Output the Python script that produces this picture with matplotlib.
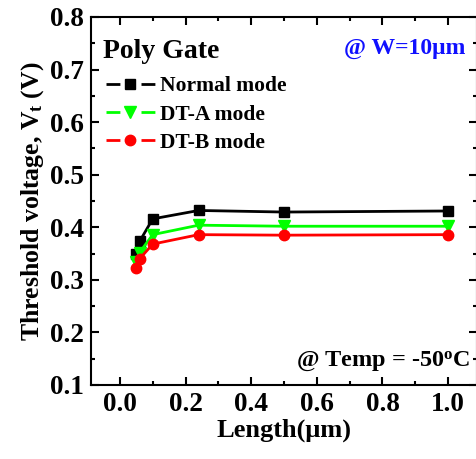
import matplotlib
matplotlib.use("Agg")
import matplotlib.pyplot as plt
from matplotlib.lines import Line2D
from matplotlib.ticker import MultipleLocator

plt.rcParams['font.family'] = ['Liberation Serif', 'DejaVu Serif']
plt.rcParams['font.weight'] = 'bold'
plt.rcParams['mathtext.fontset'] = 'custom'
plt.rcParams['mathtext.rm'] = 'Liberation Serif:bold'
plt.rcParams['mathtext.bf'] = 'Liberation Serif:bold'
plt.rcParams['mathtext.it'] = 'Liberation Serif:bold'

length = [0.05, 0.06, 0.10, 0.24, 0.50, 1.00]
normal = [0.350, 0.373, 0.416, 0.432, 0.429, 0.431]
dt_a = [0.334, 0.352, 0.386, 0.404, 0.402, 0.402]
dt_b = [0.323, 0.340, 0.368, 0.386, 0.385, 0.386]
labels = ["Normal mode", "DT-A mode", "DT-B mode"]
colors = ["black", "#00ff00", "red"]
markers = ["s", "v", "o"]
msizes = [7, 8, 7.5]

fig = plt.figure(figsize=(4.76, 4.59), dpi=100)
ax = fig.add_axes([91/476, 74/459, 386/476, 368/459])

for ys, c, m, ms in zip([normal, dt_a, dt_b], colors, markers, msizes):
    ax.plot(length, ys, color=c, marker=m, markersize=ms, linewidth=2)

ax.set_xlim(-0.088, 1.088)
ax.set_ylim(0.1, 0.8)
ax.xaxis.set_major_locator(MultipleLocator(0.2))
ax.xaxis.set_minor_locator(MultipleLocator(0.1))
ax.yaxis.set_major_locator(MultipleLocator(0.1))
ax.yaxis.set_minor_locator(MultipleLocator(0.05))
ax.tick_params(which='both', direction='in', top=True, right=True, width=1.5)
ax.tick_params(which='major', length=6, labelsize=19.5, pad=5)
ax.tick_params(which='minor', length=3)
for lab in ax.get_xticklabels() + ax.get_yticklabels():
    lab.set_fontweight('bold')
for s in ax.spines.values():
    s.set_linewidth(1.5)

ax.set_xlabel("Length(\u03bcm)", fontsize=19, fontweight='bold', labelpad=1)
ax.set_ylabel("Threshold voltage, V$_\\mathrm{t}$ (V)", fontsize=18.5, fontweight='bold', labelpad=3)

handles = [Line2D([0], [0], color=c, marker=m, markersize=ms, linewidth=2,
                  linestyle=(0, (5.0, 7.6)))
           for c, m, ms in zip(colors, markers, msizes)]
leg = ax.legend(handles, labels, loc='upper left', bbox_to_anchor=(0.0, 0.88),
                frameon=False, fontsize=15.5, handlelength=2.25, handletextpad=0.25,
                labelspacing=0.38, borderaxespad=0.3)
for t in leg.get_texts():
    t.set_fontweight('bold')

ax.text(0.032, 0.905, "Poly Gate", transform=ax.transAxes, fontsize=20,
        fontweight='bold', va='center', ha='left')
ax.text(0.97, 0.915, "@ W=10\u03bcm", transform=ax.transAxes, fontsize=17,
        fontweight='bold', va='center', ha='right', color='#1010ff')
ax.text(0.982, 0.062, "@ Temp = -50$^\\mathrm{o}$C", transform=ax.transAxes, fontsize=17.5,
        fontweight='bold', va='center', ha='right')

fig.savefig("out.png", dpi=100)
